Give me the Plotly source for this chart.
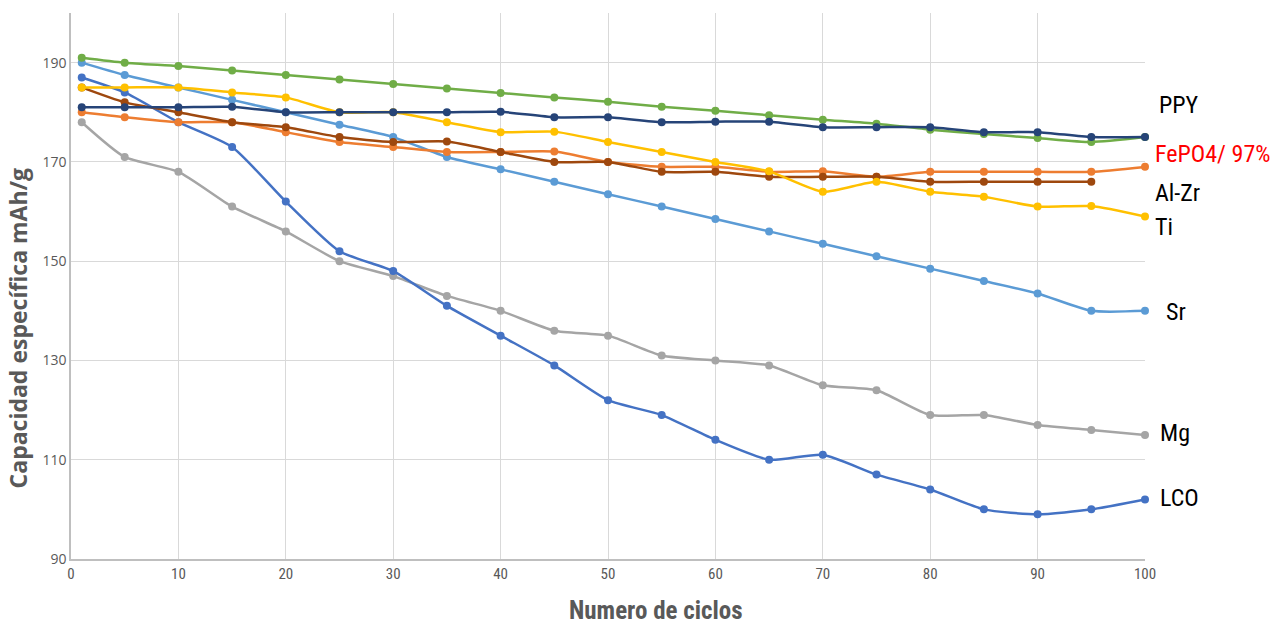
import plotly.graph_objects as go

cycles = [1, 5, 10, 15, 20, 25, 30, 35, 40, 45, 50, 55, 60, 65, 70, 75, 80, 85, 90, 95, 100]

ppy_green = [191, 190, 189.3, 188.4, 187.5, 186.6, 185.7, 184.8, 183.9, 183, 182.1, 181.1, 180.3, 179.4, 178.5, 177.7, 176.5, 175.6, 174.8, 174, 175]
ppy_navy = [181, 181, 181, 181.1, 180, 180, 180, 180, 180.1, 179, 179, 178, 178.1, 178.1, 177, 177, 177, 176, 176, 175, 175]
ti = [185, 185, 185, 184, 183, 180, 180, 178, 176, 176.1, 174, 172, 170, 168.1, 164, 166, 164, 163, 161, 161.1, 159]
fepo4 = [180, 179, 178, 178, 176, 174, 173, 172, 172, 172.1, 170, 169, 169, 168, 168.1, 167, 168, 168, 168, 168, 169]
alzr_x = [1, 5, 10, 15, 20, 25, 30, 35, 40, 45, 50, 55, 60, 65, 70, 75, 80, 85, 90, 95]
alzr = [185, 182, 180, 178, 177, 175, 174, 174.1, 172, 170, 170, 168, 168, 167, 167, 167, 166, 166, 166, 166]
sr = [190, 187.5, 185, 182.5, 180, 177.5, 175, 171, 168.5, 166, 163.5, 161, 158.5, 156, 153.5, 151, 148.5, 146, 143.5, 140, 140]
mg = [178, 171, 168, 161, 156, 150, 147, 143, 140, 136, 135, 131, 130, 129, 125, 124, 119, 119, 117, 116, 115]
lco = [187, 184, 178, 173, 162, 152, 148, 141, 135, 129, 122, 119, 114, 110, 111, 107, 104, 100, 99, 100, 102]

y_ticks = [90, 110, 130, 150, 170, 190]
x_ticks = [0, 10, 20, 30, 40, 50, 60, 70, 80, 90, 100]

series = [
    ("Mg", cycles, mg, "#A5A5A5"),
    ("LCO", cycles, lco, "#4472C4"),
    ("Sr", cycles, sr, "#5B9BD5"),
    ("FePO4", cycles, fepo4, "#ED7D31"),
    ("Al-Zr", alzr_x, alzr, "#9E480E"),
    ("Ti", cycles, ti, "#FFC000"),
    ("PPY verde", cycles, ppy_green, "#70AD47"),
    ("PPY", cycles, ppy_navy, "#264478"),
]

# series labels at the right of the plot (x in paper units, y in data units)
labels = [
    ("PPY", 1.011, 181.5, "black"),
    ("FePO4/ 97%", 1.0070, 171.5, "red"),
    ("Al-Zr", 1.0070, 163.8, "black"),
    ("Ti", 1.0070, 156.9, "black"),
    ("Sr", 1.018, 139.8, "black"),
    ("Mg", 1.012, 115.4, "black"),
    ("LCO", 1.012, 102.3, "black"),
]

NARROW = "Liberation Sans Narrow, Roboto Condensed, Open Sans, sans-serif"

fig = go.Figure()
for name, xs, ys, col in series:
    fig.add_trace(go.Scatter(
        x=xs, y=ys, name=name, mode="lines+markers",
        line=dict(color=col, width=2.5, shape="spline", smoothing=0.6),
        marker=dict(color=col, size=8),
        showlegend=False, cliponaxis=False,
    ))

for txt, lx, ly, col in labels:
    fig.add_annotation(x=lx, y=ly, xref="paper", yref="y", text=txt, showarrow=False,
                       xanchor="left", yanchor="middle",
                       font=dict(family=NARROW, size=24, color=col))

fig.add_annotation(x=0.545, y=-0.095, xref="paper", yref="paper", text="<b>Numero de ciclos</b>",
                   showarrow=False, xanchor="center", yanchor="middle",
                   font=dict(family=NARROW, size=25, color="#595959"))
fig.add_annotation(x=-0.049, y=0.423, xref="paper", yref="paper", text="<b>Capacidad específica mAh/g</b>",
                   showarrow=False, xanchor="center", yanchor="middle", textangle=-90,
                   font=dict(family="Open Sans, sans-serif", size=23, color="#595959"))

fig.update_layout(
    width=1275, height=624,
    margin=dict(l=71, r=130, t=13, b=65),
    paper_bgcolor="white", plot_bgcolor="white",
    font=dict(family="Open Sans, sans-serif", color="#595959"),
)
fig.update_xaxes(
    range=[0, 100], tickvals=x_ticks, showgrid=True, gridcolor="#D9D9D9", gridwidth=1,
    showline=True, linecolor="#BFBFBF", linewidth=1.5, zeroline=False,
    tickfont=dict(family=NARROW, size=15, color="#595959"),
    ticks="", ticklen=0,
)
fig.update_yaxes(
    range=[90, 200], tickvals=y_ticks, showgrid=True, gridcolor="#D9D9D9", gridwidth=1,
    showline=True, linecolor="#BFBFBF", linewidth=1.5, zeroline=False,
    tickfont=dict(family="Open Sans, sans-serif", size=14, color="#595959"),
    ticks="", ticklen=0,
)

fig.write_html("out.html")
